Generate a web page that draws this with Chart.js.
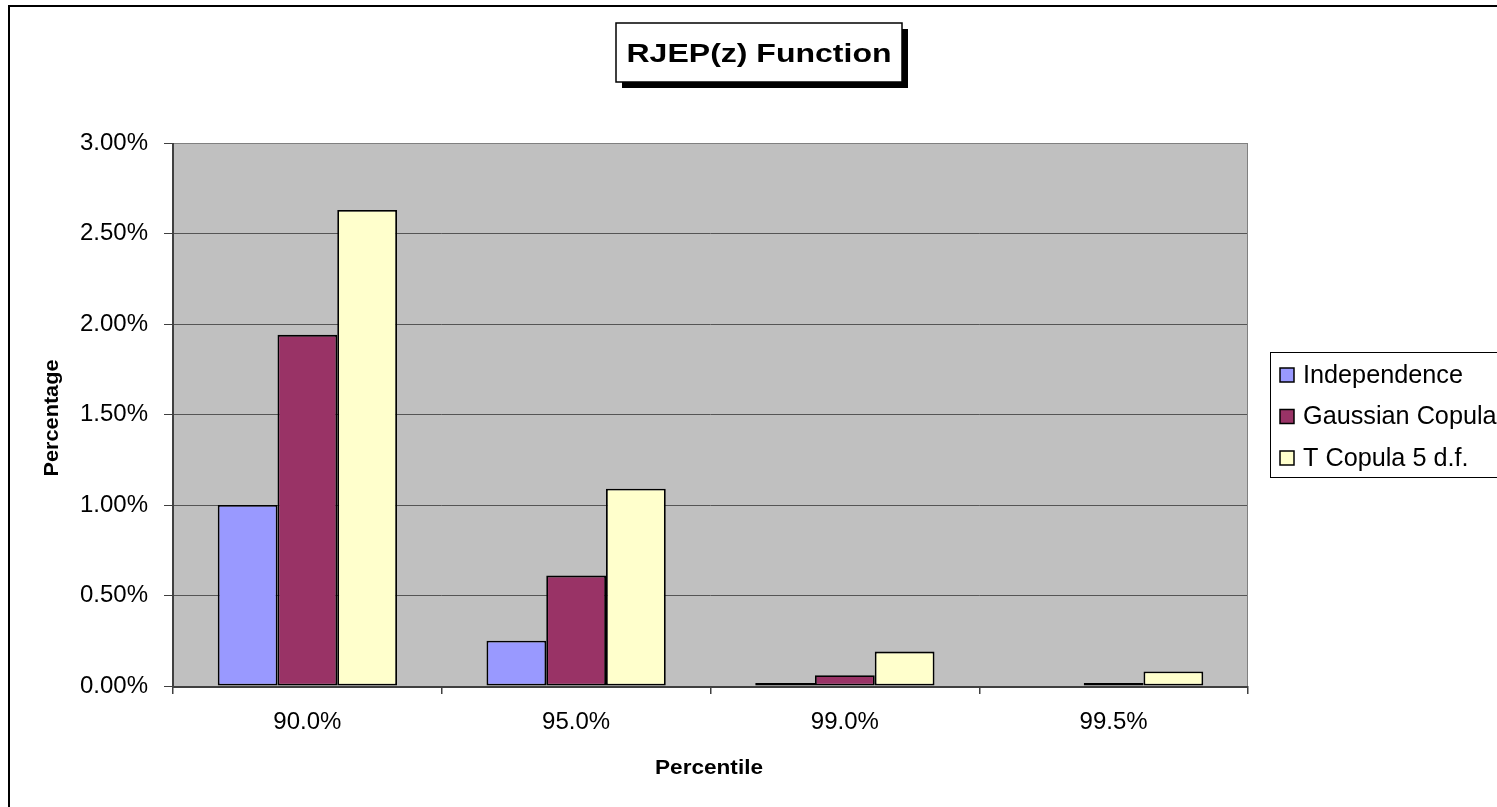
<!DOCTYPE html>
<html>
<head>
<meta charset="utf-8">
<title>RJEP(z) Function</title>
<script src="https://cdn.jsdelivr.net/npm/chart.js@4.4.1/dist/chart.umd.min.js"></script>
<style>
  html, body { margin: 0; padding: 0; background: #ffffff; overflow: hidden; }
  #wrap { position: relative; width: 1497px; height: 807px; }
</style>
</head>
<body>
<div id="wrap"><canvas id="chart" width="1497" height="807"></canvas></div>
<script>
// Percentile levels on the x axis
const categories = ['90.0%', '95.0%', '99.0%', '99.5%'];
// Joint exceedance probabilities, in percent (null = no bar)
const independence = [1.00, 0.25, 0.01, null];
const gaussianCopula = [1.94, 0.61, 0.06, 0.01];
const tCopula5df = [2.63, 1.09, 0.19, 0.08];
// Y axis ticks, in percent
const yTicks = [0, 0.5, 1.0, 1.5, 2.0, 2.5, 3.0];

const seriesNames = ['Independence', 'Gaussian Copula', 'T Copula 5 d.f.'];
const seriesColors = ['#9999FF', '#993366', '#FFFFCC'];

const FONT = 'Arial, "Liberation Sans", sans-serif';

// draws text scaled horizontally by sx
function drawScaled(ctx, text, x, y, sx, align) {
  ctx.save();
  ctx.translate(x, y);
  ctx.scale(sx, 1);
  ctx.textAlign = align || 'left';
  ctx.fillText(text, 0, 0);
  ctx.restore();
}
// draws text stretched horizontally to a target width
function drawStretched(ctx, text, x, y, targetW, align) {
  const w = ctx.measureText(text).width;
  drawScaled(ctx, text, x, y, targetW / w, align);
}

const decorations = {
  id: 'decorations',
  beforeDraw(chart) {
    const { ctx, chartArea: a } = chart;
    ctx.save();
    ctx.fillStyle = '#ffffff';
    ctx.fillRect(0, 0, chart.width, chart.height);
    // plot area fill
    ctx.fillStyle = '#C0C0C0';
    ctx.fillRect(a.left, a.top, a.right - a.left, a.bottom - a.top);
    ctx.restore();
  },
  afterDraw(chart) {
    const { ctx, chartArea: a } = chart;
    ctx.save();

    // plot frame
    ctx.strokeStyle = '#808080';
    ctx.lineWidth = 1;
    ctx.strokeRect(a.left + 0.5, a.top + 0.5, a.right - a.left - 1, a.bottom - a.top);
    ctx.strokeStyle = '#404040';
    ctx.lineWidth = 2;
    ctx.beginPath();
    ctx.moveTo(a.left, a.top);
    ctx.lineTo(a.left, a.bottom + 1);
    ctx.lineTo(a.right, a.bottom + 1);
    ctx.stroke();

    // outer chart border (left and top edges)
    ctx.strokeStyle = '#000000';
    ctx.lineWidth = 2;
    ctx.beginPath();
    ctx.moveTo(9, chart.height + 2);
    ctx.lineTo(9, 6);
    ctx.lineTo(chart.width + 2, 6);
    ctx.stroke();

    // title box with drop shadow
    const tb = { x: 616, y: 23, w: 286, h: 59 };
    ctx.fillStyle = '#000000';
    ctx.fillRect(tb.x + 6, tb.y + 6, tb.w, tb.h);
    ctx.fillStyle = '#ffffff';
    ctx.fillRect(tb.x, tb.y, tb.w, tb.h);
    ctx.strokeStyle = '#000000';
    ctx.lineWidth = 1.5;
    ctx.strokeRect(tb.x, tb.y, tb.w, tb.h);
    ctx.fillStyle = '#000000';
    ctx.font = 'bold 26px ' + FONT;
    ctx.textBaseline = 'alphabetic';
    drawStretched(ctx, 'RJEP(z) Function', tb.x + tb.w / 2, 62, 265, 'center');

    // axis titles
    ctx.font = 'bold 21px ' + FONT;
    ctx.textBaseline = 'middle';
    drawStretched(ctx, 'Percentile', 709, 768, 108, 'center');
    ctx.save();
    ctx.translate(52, 418);
    ctx.rotate(-Math.PI / 2);
    drawStretched(ctx, 'Percentage', 0, 0, 117, 'center');
    ctx.restore();

    // legend
    const lg = { x: 1270.5, y: 352.5, w: 260, h: 125 };
    ctx.fillStyle = '#ffffff';
    ctx.fillRect(lg.x, lg.y, lg.w, lg.h);
    ctx.strokeStyle = '#000000';
    ctx.lineWidth = 1;
    ctx.strokeRect(lg.x, lg.y, lg.w, lg.h);
    ctx.font = '25px ' + FONT;
    ctx.textBaseline = 'middle';
    const sx = 160 / ctx.measureText(seriesNames[0]).width;
    chart.data.datasets.forEach((ds, i) => {
      const cy = 375 + i * 41.5;
      ctx.fillStyle = ds.backgroundColor;
      ctx.fillRect(1280, cy - 7, 14, 14);
      ctx.strokeStyle = '#000000';
      ctx.lineWidth = 1.5;
      ctx.strokeRect(1280, cy - 7, 14, 14);
      ctx.fillStyle = '#000000';
      drawScaled(ctx, ds.label, 1303, cy + 1, sx, 'left');
    });

    ctx.restore();
  }
};

new Chart(document.getElementById('chart'), {
  type: 'bar',
  data: {
    labels: categories,
    datasets: [independence, gaussianCopula, tCopula5df].map((vals, i) => ({
      label: seriesNames[i],
      data: vals,
      backgroundColor: seriesColors[i],
      borderColor: '#000000',
      borderWidth: 1.8,
      borderSkipped: false,
      minBarLength: 3,
      categoryPercentage: 0.667,
      barPercentage: 1.0
    }))
  },
  options: {
    responsive: false,
    animation: false,
    devicePixelRatio: 1,
    layout: { padding: { top: 143, right: 249, bottom: 0, left: 0 } },
    plugins: {
      legend: { display: false },
      title: { display: false },
      tooltip: { enabled: false }
    },
    scales: {
      x: {
        offset: true,
        afterFit(scale) { scale.height = 121; },
        grid: {
          offset: true,
          drawOnChartArea: false,
          drawTicks: true,
          tickLength: 8,
          tickColor: '#404040',
          lineWidth: 1.5
        },
        border: { display: false },
        ticks: {
          color: '#000000',
          font: { family: FONT, size: 24 },
          padding: 14,
          maxRotation: 0
        }
      },
      y: {
        min: 0,
        max: 3,
        afterFit(scale) { scale.width = 173; },
        afterBuildTicks(scale) { scale.ticks = yTicks.map(v => ({ value: v })); },
        grid: {
          color: '#555555',
          tickColor: '#404040',
          tickLength: 9,
          lineWidth: 1
        },
        border: { display: false },
        ticks: {
          color: '#000000',
          font: { family: FONT, size: 24 },
          padding: 16,
          callback: v => v.toFixed(2) + '%'
        }
      }
    }
  },
  plugins: [decorations]
});
</script>
</body>
</html>
